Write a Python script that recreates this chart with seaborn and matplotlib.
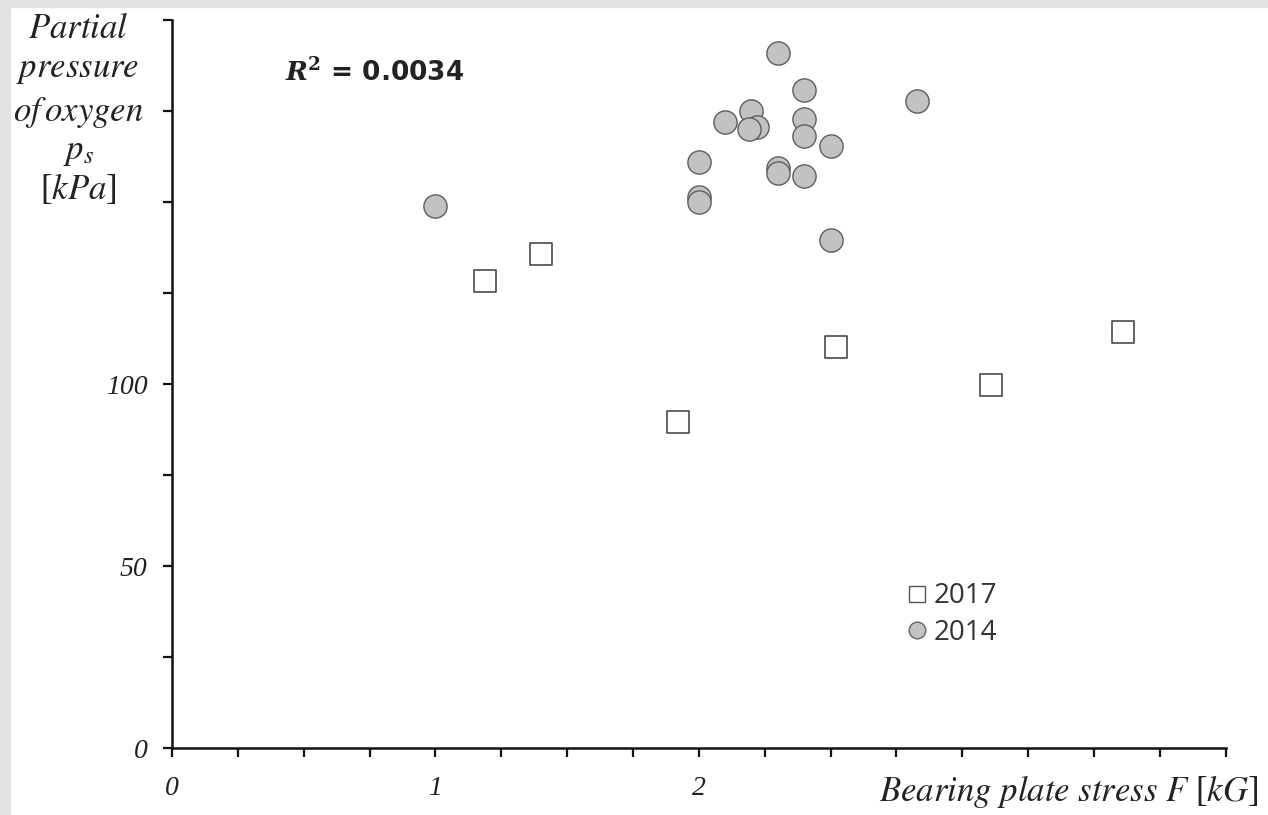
import numpy as np
import pandas as pd
import matplotlib
matplotlib.use("Agg")
import matplotlib.pyplot as plt
from matplotlib.lines import Line2D
import seaborn as sns

sns.set_style("ticks")
plt.rcParams['font.family'] = ['Liberation Serif', 'DejaVu Serif']
plt.rcParams['mathtext.fontset'] = 'stix'

# 2017 measurements (squares)
stress_2017 = [1.19, 1.40, 1.92, 2.52, 3.11, 3.61]
pressure_2017 = [128.3, 135.7, 89.6, 110.2, 99.7, 114.3]

# 2014 measurements (circles)
stress_2014 = [1.00, 2.30, 2.40, 2.83, 2.10, 2.20, 2.22, 2.19, 2.40, 2.40,
               2.50, 2.00, 2.30, 2.30, 2.40, 2.00, 2.00, 2.50]
pressure_2014 = [148.9, 190.8, 180.8, 177.8, 172.0, 175.0, 170.7, 170.0, 172.7, 168.1,
                 165.5, 161.1, 159.3, 157.9, 157.2, 151.5, 150.1, 139.6]

years = ["2017", "2014"]
r2_text = "0.0034"
x_ticks = np.arange(0, 4.01, 0.25)
x_labels = {0: "0", 1: "1", 2: "2"}
y_ticks = np.arange(0, 201, 25)
y_labels = {0: "0", 50: "50", 100: "100"}

df = pd.concat([
    pd.DataFrame({"F": stress_2017, "ps": pressure_2017, "year": years[0]}),
    pd.DataFrame({"F": stress_2014, "ps": pressure_2014, "year": years[1]}),
])

fig = plt.figure(figsize=(12.68, 8.15), dpi=100)
fig.patch.set_facecolor("white")
# light gray frame at top and left like the screenshot
fig.patches.append(plt.Rectangle((0, 1 - 7 / 815), 1, 7 / 815, transform=fig.transFigure,
                                 color="#e3e3e3", zorder=0))
fig.patches.append(plt.Rectangle((0, 0), 10 / 1268, 1, transform=fig.transFigure,
                                 color="#e3e3e3", zorder=0))

ax = fig.add_axes([172 / 1268, 67 / 815, (1225.6 - 172) / 1268, 728 / 815])

sns.scatterplot(data=df[df.year == "2014"], x="F", y="ps", ax=ax, marker="o", s=280,
                color="#c2c2c2", edgecolor="#5e5e5e", linewidth=1.0, legend=False, zorder=3)
sns.scatterplot(data=df[df.year == "2017"], x="F", y="ps", ax=ax, marker="s", s=270,
                color="white", edgecolor="#4a4a4a", linewidth=1.2, legend=False, zorder=3)

ax.set_xlim(0, 4)
ax.set_ylim(0, 200)
ax.set_xticks(x_ticks)
ax.set_xticklabels([x_labels.get(v, "") for v in x_ticks])
ax.set_yticks(y_ticks)
ax.set_yticklabels([y_labels.get(v, "") for v in y_ticks])
ax.tick_params(direction="out", length=6.5, width=1.6, color="#111111", labelsize=20)
ax.tick_params(axis="x", pad=14)
ax.tick_params(axis="y", pad=11)
for lab in ax.get_xticklabels() + ax.get_yticklabels():
    lab.set_fontstyle("italic")
    lab.set_color("#222222")
sns.despine(ax=ax)
for sp in ("left", "bottom"):
    ax.spines[sp].set_linewidth(1.8)
    ax.spines[sp].set_color("#111111")
ax.set_xlabel("")
ax.set_ylabel("")

# axis titles (italic words, upright brackets)
fig.text(1258 / 1268, 1 - 791 / 815, r"$Bearing\ plate\ stress\ F$ [$kG$]", ha="right",
         va="center", fontsize=25, color="#222222")
ylab_lines = [r"$Partial$", r"$pressure$", r"$of\,oxygen$", "$p_s$", "[$kPa$]"]
ylab_y = [30, 70, 112, 152, 190]
for txt, yy in zip(ylab_lines, ylab_y):
    fig.text(78 / 1268, 1 - yy / 815, txt, ha="center", va="center", fontsize=25,
             color="#222222")

ax.text(0.43, 185.5, r"$\mathbfit{R}^{\mathbf{2}}$ = " + r2_text, fontsize=19,
        fontweight="bold", family="DejaVu Sans", math_fontfamily="dejavuserif",
        va="center", ha="left", color="#222222")

handles = [
    Line2D([], [], marker="s", linestyle="", markersize=11, markerfacecolor="white",
           markeredgecolor="#555555", markeredgewidth=1.0, label=years[0]),
    Line2D([], [], marker="o", linestyle="", markersize=12, markerfacecolor="#c2c2c2",
           markeredgecolor="#666666", markeredgewidth=1.0, label=years[1]),
]
leg = ax.legend(handles=handles, loc="upper left", bbox_to_anchor=(0.67, 0.262),
                frameon=False, handletextpad=0.1, handlelength=1.0,
                labelspacing=0.32, prop={"family": "Open Sans", "size": 20})
for t in leg.get_texts():
    t.set_color("#333333")

fig.savefig("out.png", dpi=100)
